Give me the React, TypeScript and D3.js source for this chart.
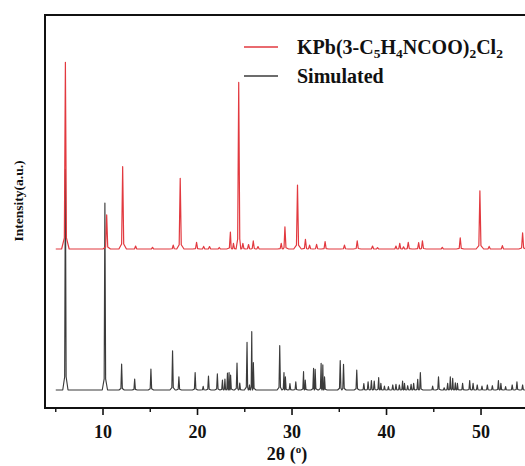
import React from "react";
import * as d3 from "d3";

// 2θ range of the measured / simulated patterns
const thetaRange = [5.0, 56.0];

// Simulated pattern: peak positions (2θ) and relative intensities
const simPos = [6.02, 10.2, 11.97, 13.35, 15.07, 17.36, 18.03, 19.75, 20.6, 21.16, 22.1, 22.64, 22.9, 23.17, 23.34, 23.5, 24.18, 24.47, 25.24, 25.5, 25.74, 25.91, 28.7, 29.15, 29.3, 29.78, 30.4, 31.22, 31.4, 32.28, 32.45, 33.08, 33.26, 33.44, 35.1, 35.45, 36.85, 37.6, 38.05, 38.4, 38.7, 39.17, 39.4, 39.78, 40.2, 40.66, 41.0, 41.36, 41.7, 41.9, 42.24, 42.6, 42.87, 43.3, 43.58, 44.88, 45.5, 46.1, 46.47, 46.75, 47.0, 47.28, 47.5, 48.05, 48.8, 49.16, 49.6, 50.1, 50.67, 51.2, 51.84, 52.1, 52.6, 53.3, 53.8, 54.4];
const simInt = [118, 100, 13.9, 5.9, 11.2, 21.0, 7.1, 9.3, 2.0, 7.5, 8.6, 5.3, 5.9, 9.1, 9.3, 8.0, 14.4, 3.7, 25.5, 2.7, 31.2, 14.6, 23.7, 9.3, 7.0, 3.4, 4.4, 9.8, 5.3, 11.6, 11.0, 14.3, 13.4, 7.1, 15.7, 13.7, 10.7, 3.4, 4.4, 5.0, 4.8, 6.6, 3.6, 2.1, 1.8, 2.7, 3.0, 2.7, 4.8, 3.6, 2.3, 3.0, 3.6, 5.7, 9.3, 2.1, 7.1, 1.2, 3.6, 7.1, 6.3, 3.9, 3.6, 3.6, 5.0, 3.6, 2.7, 2.1, 2.7, 2.3, 5.0, 3.6, 1.8, 2.7, 4.4, 2.7];

// Experimental pattern KPb(3-C5H4NCOO)2Cl2
const expPos = [6.02, 10.39, 12.08, 13.45, 15.24, 17.43, 18.17, 19.9, 20.65, 21.27, 22.3, 23.48, 23.8, 24.36, 24.8, 25.4, 25.9, 26.4, 28.86, 29.25, 30.58, 31.42, 31.86, 32.6, 33.5, 35.55, 36.9, 38.52, 39.05, 41.0, 41.4, 41.8, 42.3, 43.4, 43.8, 45.9, 47.8, 49.88, 50.86, 52.26, 54.4];
const expInt = [99.8, 18.2, 44.0, 1.6, 0.9, 2.1, 37.8, 3.6, 1.4, 1.3, 0.8, 9.1, 3.0, 89.1, 3.0, 2.4, 4.3, 1.3, 3.0, 11.9, 34.2, 5.2, 2.1, 2.5, 3.9, 2.1, 4.4, 1.6, 0.7, 1.6, 3.0, 1.2, 3.6, 3.4, 4.4, 0.9, 6.0, 31.1, 1.4, 1.8, 8.7];

// vertical offset of the experimental trace
const expOffset = 75.4;

const xTicksMajor = [10, 20, 30, 40, 50];
const xTicksMinor = [5, 15, 25, 35, 45, 55];

const legendLabels = ["KPb(3-C5H4NCOO)2Cl2", "Simulated"];

const W = 525;
const H = 466;
const left = 45;
const right = 540;
const top = 15;
const bottom = 408;

const FONT = "'Liberation Serif', 'Times New Roman', Times, serif";

function buildTrace(pos: number[], ints: number[], hw: number, offset: number): [number, number][] {
  const pts: [number, number][] = [[thetaRange[0], offset]];
  for (let i = 0; i < pos.length; i++) {
    const p = pos[i];
    const h = ints[i];
    const prev = i > 0 ? pos[i - 1] : thetaRange[0];
    const next = i < pos.length - 1 ? pos[i + 1] : thetaRange[1];
    const le = Math.min(4 * hw, (p - prev) / 2);
    const re = Math.min(4 * hw, (next - p) / 2);
    const li = Math.min(1.1 * hw, le * 0.5);
    const ri = Math.min(1.1 * hw, re * 0.5);
    pts.push([p - le, offset]);
    pts.push([p - li, offset + h * 0.06]);
    pts.push([p, offset + h]);
    pts.push([p + ri, offset + h * 0.06]);
    pts.push([p + re, offset]);
  }
  pts.push([thetaRange[1], offset]);
  return pts;
}

export default function App() {
  const x = d3.scaleLinear().domain([3.862, 56.24]).range([left, right]);
  const y = d3.scaleLinear().domain([0, 100]).range([390, 203]);

  const line = d3
    .line<[number, number]>()
    .x((d) => x(d[0]))
    .y((d) => y(d[1]));

  const simPath = line(buildTrace(simPos, simInt, 0.07, 0)) || "";
  const expPath = line(buildTrace(expPos, expInt, 0.1, expOffset)) || "";

  const red = "#e2393f";
  const dark = "#3b3b3b";

  return (
    <svg
      width={W}
      height={H}
      style={{ position: "absolute", left: 0, top: 0, background: "#fff" }}
      fontFamily={FONT}
    >
      <defs>
        <clipPath id="plot">
          <rect x={left} y={top} width={right - left} height={bottom - top} />
        </clipPath>
      </defs>
      <rect x={0} y={0} width={W} height={H} fill="#fff" />
      <g clipPath="url(#plot)">
        <path d={simPath} fill="none" stroke={dark} strokeWidth={1.15} strokeLinejoin="round" />
        <path d={expPath} fill="none" stroke={red} strokeWidth={1.2} strokeLinejoin="round" />
      </g>
      {/* frame */}
      <rect x={left} y={top} width={right - left} height={bottom - top} fill="none" stroke="#111" strokeWidth={2} />
      {/* ticks */}
      {xTicksMajor.map((t) => (
        <line key={"M" + t} x1={x(t)} x2={x(t)} y1={bottom} y2={bottom + 7} stroke="#111" strokeWidth={1.6} />
      ))}
      {xTicksMinor.map((t) => (
        <line key={"m" + t} x1={x(t)} x2={x(t)} y1={bottom} y2={bottom + 4} stroke="#111" strokeWidth={1.4} />
      ))}
      {xTicksMajor.map((t) => (
        <text key={"L" + t} x={x(t)} y={438} textAnchor="middle" fontSize={18} fontWeight="bold" fill="#111">
          {t}
        </text>
      ))}
      {/* axis titles */}
      <text x={287} y={460} textAnchor="middle" fontSize={18} fontWeight="bold" fill="#111">
        2θ (<tspan fontSize={11} dy={-7}>o</tspan><tspan dy={7}>)</tspan>
      </text>
      <text
        transform="translate(23,201) rotate(-90)"
        textAnchor="middle"
        fontSize={13.5}
        fontWeight="bold"
        fill="#111"
      >
        Intensity(a.u.)
      </text>
      {/* legend */}
      <line x1={244} x2={278} y1={47} y2={47} stroke={red} strokeWidth={1.4} />
      <text x={297} y={54} fontSize={20} fontWeight="bold" fill="#111">
        KPb(3-C<tspan fontSize={13.5} dy={4}>5</tspan>
        <tspan dy={-4}>H</tspan>
        <tspan fontSize={13.5} dy={4}>4</tspan>
        <tspan dy={-4}>NCOO)</tspan>
        <tspan fontSize={13.5} dy={4}>2</tspan>
        <tspan dy={-4}>Cl</tspan>
        <tspan fontSize={13.5} dy={4}>2</tspan>
      </text>
      <line x1={244} x2={278} y1={76} y2={76} stroke={dark} strokeWidth={1.4} />
      <text x={297} y={83} fontSize={20} fontWeight="bold" fill="#111">
        {legendLabels[1]}
      </text>
    </svg>
  );
}
